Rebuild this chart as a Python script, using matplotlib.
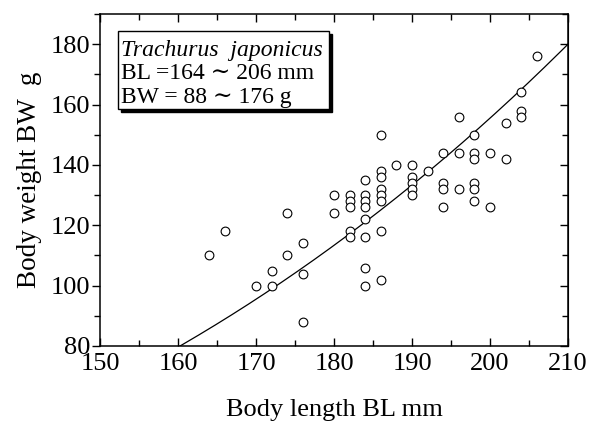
import numpy as np
import matplotlib
matplotlib.use("Agg")
import matplotlib.pyplot as plt
from matplotlib.patches import Rectangle

plt.rcParams['font.family'] = ['Liberation Serif', 'DejaVu Serif']

# body length (mm) and body weight (g)
bl = [164, 166, 170, 172, 172, 174, 174, 176, 176, 176,
      180, 180,
      182, 182, 182, 182, 182,
      184, 184, 184, 184, 184, 184, 184, 184,
      186, 186, 186, 186, 186, 186, 186, 186,
      188,
      190, 190, 190, 190, 190,
      192,
      194, 194, 194, 194,
      196, 196, 196,
      198, 198, 198, 198, 198, 198,
      200, 200,
      202, 202,
      204, 204, 204,
      206]
bw = [110, 118, 100, 100, 105, 124, 110, 114, 104, 88,
      130, 124,
      130, 128, 126, 118, 116,
      135, 130, 128, 126, 122, 116, 106, 100,
      150, 138, 136, 132, 130, 128, 118, 102,
      140,
      140, 136, 134, 132, 130,
      138,
      144, 134, 132, 126,
      156, 144, 132,
      150, 144, 142, 134, 132, 128,
      144, 126,
      154, 142,
      164, 158, 156,
      176]

# fitted curve BW = a * BL^b
a_coef = 1.9436e-5
b_coef = 3.0

fig = plt.figure(figsize=(5.97, 4.21), dpi=100)
ax = fig.add_axes([100/597, 75/421, 468/597, 332/421])

xx = np.linspace(150, 210, 200)
ax.plot(xx, a_coef * xx**b_coef, color='black', lw=0.9)
ax.plot(bl, bw, 'o', mfc='white', mec='black', mew=0.8, ms=6.3)

ax.set_xlim(150, 210)
ax.set_ylim(80, 190)
ax.set_xticks(range(150, 211, 10))
ax.set_xticks(range(155, 210, 10), minor=True)
ax.set_yticks(range(80, 181, 20))
ax.set_yticks(range(90, 191, 20), minor=True)
ax.tick_params(axis='x', which='both', direction='in', top=True, labelsize=19, pad=5)
ax.tick_params(axis='y', which='both', direction='out', labelsize=19, pad=1)
ax.tick_params(which='major', length=6, width=1)
ax.tick_params(which='minor', length=4, width=1)
# right side ticks point inward
sec = ax.secondary_yaxis('right')
sec.set_yticks(range(80, 181, 20))
sec.set_yticks(range(90, 191, 20), minor=True)
sec.tick_params(which='both', direction='in', labelright=False, width=1)
sec.tick_params(which='major', length=6)
sec.tick_params(which='minor', length=4)
for s in ax.spines.values():
    s.set_linewidth(1.1)

ax.set_xlabel('Body length BL mm', fontsize=19, labelpad=17)
ax.set_ylabel('Body weight BW  g', fontsize=19.5, labelpad=6)

# info box with drop shadow
ax.add_patch(Rectangle((0.044, 0.705), 0.451, 0.236, transform=ax.transAxes,
                       facecolor='black', edgecolor='black', zorder=4))
ax.add_patch(Rectangle((0.038, 0.714), 0.451, 0.236, transform=ax.transAxes,
                       facecolor='white', edgecolor='black', lw=1, zorder=5))
ax.text(0.045, 0.874, 'Trachurus  japonicus', transform=ax.transAxes,
        fontsize=17, style='italic', va='baseline', zorder=6)
ax.text(0.045, 0.804, 'BL =164 \u223c 206 mm', transform=ax.transAxes,
        fontsize=17, va='baseline', zorder=6)
ax.text(0.045, 0.733, 'BW = 88 \u223c 176 g', transform=ax.transAxes,
        fontsize=17, va='baseline', zorder=6)

fig.savefig('out.png', dpi=100)
